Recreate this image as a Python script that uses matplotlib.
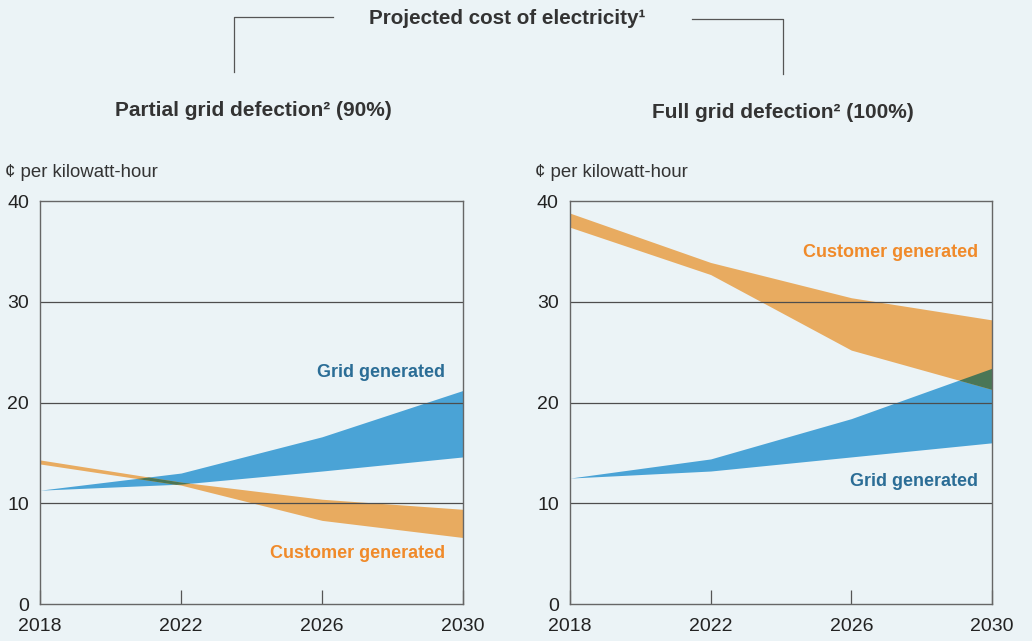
"""
Projected cost of electricity: partial vs full grid defection.
Bands show ranges for grid and customer generated power.
"""
import matplotlib.pyplot as plt
import numpy as np
from matplotlib.lines import Line2D

years = [2018, 2022, 2026, 2030]

# partial grid defection (90%)
grid_lo_p = [11.3, 11.9, 13.2, 14.6]
grid_hi_p = [11.3, 13.0, 16.6, 21.2]
cust_lo_p = [13.9, 11.8, 8.3, 6.6]
cust_hi_p = [14.3, 12.1, 10.4, 9.4]

# full grid defection (100%)
grid_lo_f = [12.5, 13.2, 14.6, 16.0]
grid_hi_f = [12.5, 14.4, 18.4, 23.4]
cust_lo_f = [37.4, 32.7, 25.2, 21.3]
cust_hi_f = [38.8, 33.9, 30.4, 28.2]

yticks = [0, 10, 20, 30, 40]

bg = '#ebf3f6'
blue = '#4aa3d6'
orange = '#e8ab60'
green = '#4a7656'
txt = '#333333'

plt.rcParams['font.family'] = ['Liberation Sans', 'DejaVu Sans']

fig = plt.figure(figsize=(10.32, 6.41), dpi=100, facecolor=bg)


def panel(ax, glo, ghi, clo, chi, grid_lbl, cust_lbl):
    ax.set_facecolor(bg)
    ax.fill_between(years, glo, ghi, color=blue, lw=0)
    ax.fill_between(years, clo, chi, color=orange, lw=0)

    # where the two bands overlap, draw the darker colour
    xs = np.linspace(years[0], years[-1], 600)
    lo = np.maximum(np.interp(xs, years, glo), np.interp(xs, years, clo))
    hi = np.minimum(np.interp(xs, years, ghi), np.interp(xs, years, chi))
    ax.fill_between(xs, lo, hi, where=hi > lo, color=green, lw=0)

    for v in yticks[1:-1]:
        ax.axhline(v, color='#4d4d4d', lw=0.9, zorder=3)

    ax.set_xlim(2018, 2030)
    ax.set_ylim(0, 40)
    ax.set_xticks(years)
    ax.set_yticks(yticks)
    ax.tick_params(axis='x', direction='in', length=10, width=0.9,
                   color='#555555', labelsize=14, pad=10, labelcolor='#222222')
    ax.tick_params(axis='y', length=0, labelsize=14, pad=8,
                   labelcolor='#222222')
    for s in ax.spines.values():
        s.set_color('#666666')
        s.set_linewidth(1.0)
        s.set_zorder(4)

    ax.text(grid_lbl[0], grid_lbl[1], 'Grid generated', ha='right',
            va='center', color='#2b6d96', fontsize=13, fontweight='bold')
    ax.text(cust_lbl[0], cust_lbl[1], 'Customer generated', ha='right',
            va='center', color='#f08a2a', fontsize=13, fontweight='bold')
    ax.text(-0.083, 1.07, '¢ per kilowatt-hour', transform=ax.transAxes,
            ha='left', va='center', fontsize=13.4, color=txt)


ax1 = fig.add_axes([0.0388, 0.0577, 0.4099, 0.6287])
ax2 = fig.add_axes([0.5523, 0.0577, 0.4089, 0.6287])

panel(ax1, grid_lo_p, grid_hi_p, cust_lo_p, cust_hi_p,
      (2029.5, 23.0), (2029.5, 5.0))
panel(ax2, grid_lo_f, grid_hi_f, cust_lo_f, cust_hi_f,
      (2029.6, 12.2), (2029.6, 34.9))

# titles
fig.text(507 / 1032, 1 - 18 / 641, 'Projected cost of electricity¹',
         ha='center', va='center', fontsize=14.9, fontweight='bold', color=txt)
fig.text(253 / 1032, 1 - 110 / 641, 'Partial grid defection² (90%)',
         ha='center', va='center', fontsize=15, fontweight='bold', color=txt)
fig.text(783 / 1032, 1 - 112 / 641, 'Full grid defection² (100%)',
         ha='center', va='center', fontsize=15, fontweight='bold', color=txt)

# bracket lines joining the main title to each panel
W, H = 1032.0, 641.0
fig.add_artist(Line2D([234 / W, 234 / W, 333 / W],
                      [1 - 72 / H, 1 - 17 / H, 1 - 17 / H],
                      color='#555555', lw=0.9))
fig.add_artist(Line2D([692 / W, 783 / W, 783 / W],
                      [1 - 19 / H, 1 - 19 / H, 1 - 74 / H],
                      color='#555555', lw=0.9))

fig.savefig('out.png', dpi=100, facecolor=bg)
